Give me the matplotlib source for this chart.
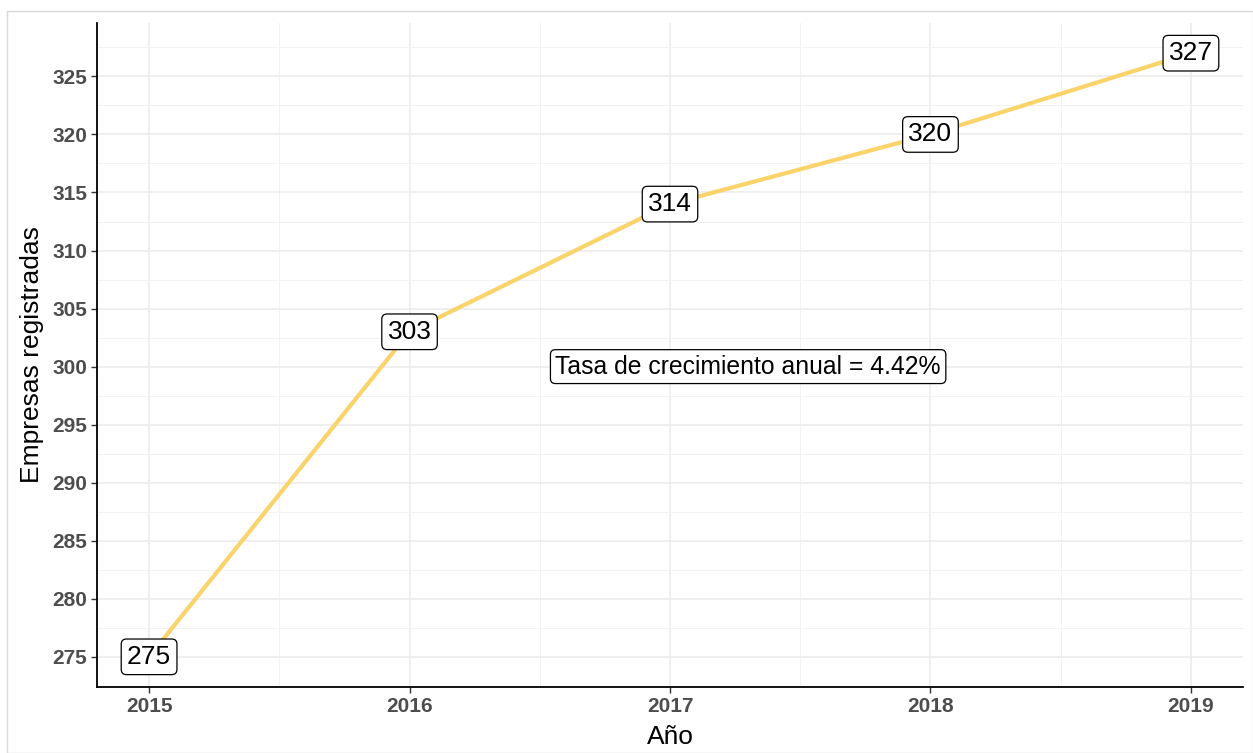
import matplotlib
matplotlib.use("Agg")
import matplotlib.pyplot as plt
from matplotlib.patches import Rectangle
from matplotlib.ticker import MultipleLocator

plt.rcParams['font.family'] = ['Liberation Sans', 'DejaVu Sans']

years = [2015, 2016, 2017, 2018, 2019]
empresas = [275, 303, 314, 320, 327]
tasa_text = "Tasa de crecimiento anual = 4.42%"

fig = plt.figure(figsize=(12.53, 7.53), dpi=100)
ax = fig.add_axes([97/1253, 1 - 687/753, (1243-97)/1253, (687-23)/753])

# thin outer border like the reference
fig.patches.append(Rectangle((7/1253, 0), 1 - 7/1253, 1 - 11/753, transform=fig.transFigure,
                             fill=False, edgecolor='#D9D9D9', linewidth=1))

ax.plot(years, empresas, color='#FAD36B', linewidth=3, zorder=3)
for x, y in zip(years, empresas):
    ax.text(x, y, str(y), ha='center', va='center', fontsize=19, zorder=4,
            bbox=dict(boxstyle='round,pad=0.22,rounding_size=0.2', fc='white', ec='black', lw=0.9))

ax.text(2017.3, 300, tasa_text, ha='center', va='center', fontsize=17.8, zorder=4,
        bbox=dict(boxstyle='round,pad=0.2,rounding_size=0.2', fc='white', ec='black', lw=0.9))

ax.set_xlim(2014.8, 2019.2)
ax.set_ylim(272.4, 329.6)
ax.set_xticks(years)
ax.yaxis.set_major_locator(MultipleLocator(5))
ax.xaxis.set_minor_locator(MultipleLocator(0.5))
ax.yaxis.set_minor_locator(MultipleLocator(2.5))
ax.grid(which='major', color='#EBEBEB', linewidth=1.1)
ax.grid(which='minor', color='#F2F2F2', linewidth=0.7)
ax.set_axisbelow(True)

for s in ['top', 'right']:
    ax.spines[s].set_visible(False)
for s in ['left', 'bottom']:
    ax.spines[s].set_linewidth(1.3)

ax.tick_params(which='minor', length=0)
ax.tick_params(which='major', length=4, width=1, color='#333333', labelsize=15,
               labelcolor='#4D4D4D', pad=3)
for lab in ax.get_xticklabels() + ax.get_yticklabels():
    lab.set_fontweight('bold')

ax.set_xlabel('Año', fontsize=19, labelpad=7)
ax.set_ylabel('Empresas registradas', fontsize=19, labelpad=6)

fig.savefig('out.png', dpi=100)
